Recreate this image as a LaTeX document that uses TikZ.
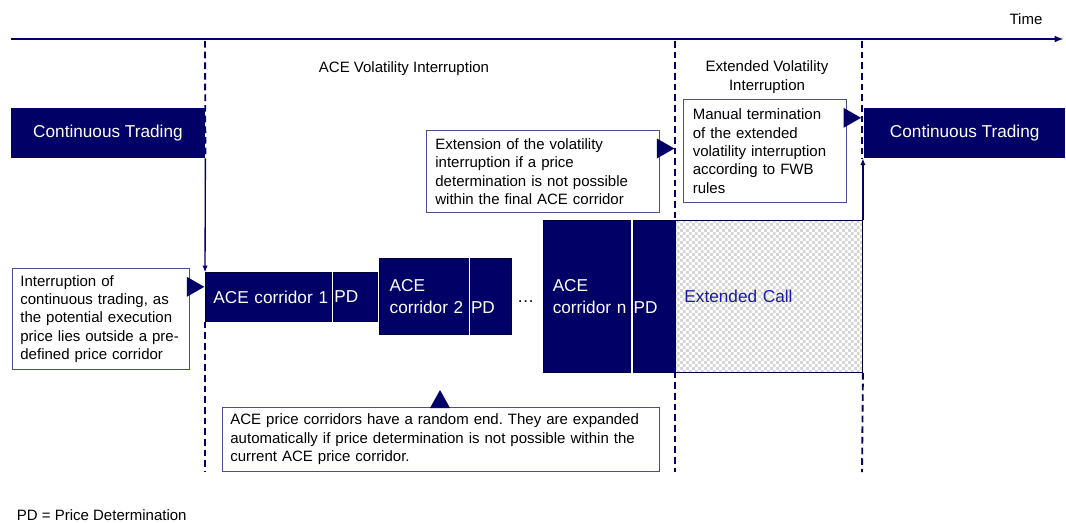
\documentclass[tikz,border=0pt]{standalone}
\usepackage{fontspec}
\setmainfont{Liberation Sans}
\usepackage{tikz}
\usetikzlibrary{arrows.meta,positioning,calc,patterns}
\frenchspacing

\definecolor{navy}{HTML}{000066}
\definecolor{notecol}{HTML}{4C4C94}
\definecolor{callblue}{HTML}{1A1AA8}
\newcommand{\notefont}{\fontsize{15}{18.3}\selectfont}
\newcommand{\boxfont}{\fontsize{17.2}{22}\selectfont}
% small checker squares for the extended call
\pgfdeclarepatternformonly{finechecks}{\pgfpointorigin}{\pgfqpoint{4.4pt}{4.4pt}}{\pgfqpoint{4.4pt}{4.4pt}}{%
  \pgfpathrectangle{\pgfpointorigin}{\pgfqpoint{2.2pt}{2.2pt}}%
  \pgfpathrectangle{\pgfqpoint{2.2pt}{2.2pt}}{\pgfqpoint{2.2pt}{2.2pt}}%
  \pgfusepath{fill}%
}

\begin{document}
\begin{tikzpicture}[
    % GLOBAL CFG
    x=1pt, y=-1pt,
    scale=0.75,
    every node/.style={scale=0.75, inner sep=0pt},
    font=\notefont,
    >={Latex[length=5pt,width=4pt]},
    % Styles
    phase/.style={% For the continuous trading boxes
        rectangle,
        fill=navy,
        text=white,
        font=\boxfont,
        anchor=north west,
        minimum height=50,
        },
    corridor/.style={% For the ACE corridors
        rectangle,
        draw=navy!55!black,
        line width=0.8pt,
        fill=navy,
        text=white,
        font=\boxfont,
        align=left,
        anchor=north west,
        },
    pd/.style={% PD part of a corridor
        text=white,
        font=\boxfont,
        anchor=west,
        inner xsep=1.5,
        },
    divider/.style={% White line in front of PD
        white,
        line width=1pt,
        },
    extcall/.style={% Extended call box
        rectangle,
        draw=navy!55!black,
        line width=0.9pt,
        pattern=finechecks,
        pattern color=black!16,
        text=callblue,
        font=\boxfont,
        align=left,
        anchor=north west,
        },
    note/.style={% For the explaining boxes
        rectangle,
        draw=notecol,
        line width=0.8pt,
        fill=white,
        align=left,
        anchor=north west,
        },
    pointer/.style={% Triangles of the notes
        fill=navy,
        },
    guide/.style={% Dashed phase borders
        navy,
        line width=1.4pt,
        dash pattern=on 5pt off 3pt,
        },
    ArrowT/.style={% Time axis
        navy,
        line width=1.4pt,
        -{Latex[length=7pt,width=5pt]},
        },
    ArrowV/.style={% Vertical arrows
        navy,
        line width=1pt,
        ->,
        },
    ]

    \useasboundingbox (0,0) rectangle (1066,522);

    % Time axis
    \coordinate (ax0) at (11,39);
    \coordinate (ax1) at (1064,39);
    \node (time) at (1026,19) {Time};

    % Ends of the dashed borders
    \coordinate (g1a) at (205,41);
    \coordinate (g1b) at (205,472);
    \coordinate (g2a) at (675,41);
    \coordinate (g2b) at (675,472);
    \coordinate (g3a) at (862,41);
    \coordinate (g3b) at (862,472);

    % Headlines
    \node (vih) at (404,69) {ACE Volatility Interruption};
    \node[align=center] (evih) at (767,77) {Extended Volatility\\Interruption};

    % Continuous trading before and after
    \node[phase, minimum width=194.5] (ct1) at (10.5,108) {Continuous Trading};
    \node[phase, minimum width=201] (ct2) at (864,108) {Continuous Trading};

    % Dashed borders (below the boxes)
    \draw[guide] (g1a) -- (ct1.south east);
    \draw[guide] (g2a) -- (g2b);
    \draw[guide] (g3a) -- (g3a |- ct2.south);

    % ACE corridors named cor# and pd#
    \node[corridor, minimum width=172, minimum height=48.4, text width=156] (cor1) at (205,272.3) {ACE corridor 1};
    \node[corridor, minimum width=131.7, minimum height=75.7, text width=111.7] (cor2) at (379.3,258.3) {ACE\\corridor 2};
    \node[corridor, minimum width=132.3, minimum height=152, text width=113] (cor3) at (542.7,220) {ACE\\corridor n};
    \node[pd] (pd1) at (332.7,297) {PD};
    \node[pd] (pd2) at (469.3,308) {PD};
    \node[pd] (pd3) at (632,308) {PD};
    \draw[divider] (pd1.west |- cor1.north) -- (pd1.west |- cor1.south);
    \draw[divider] (pd2.west |- cor2.north) -- (pd2.west |- cor2.south);
    \draw[divider] (pd3.west |- cor3.north) -- (pd3.west |- cor3.south);
    \node[anchor=base west, font=\boxfont] (dots) at (517,302) {\ldots};

    % Extended call
    \node[extcall, minimum width=187, minimum height=152, text width=169] (ecall) at (675,220) {Extended Call};

    % Notes named note#
    \node[note, minimum width=177.3, minimum height=100.7, text width=160.7] (note1) at (11.7,268.3) {Interruption of\\continuous trading, as\\the potential execution\\price lies outside a pre-\\defined price corridor};
    \node[note, minimum width=233, minimum height=82.3, text width=215] (note2) at (426,130) {Extension of the volatility\\interruption if a price\\determination is not possible\\within the final ACE corridor};
    \node[note, minimum width=162.7, minimum height=102.7, text width=144] (note3) at (683,99.3) {Manual termination\\of the extended\\volatility interruption\\according to FWB\\rules};
    \node[note, minimum width=437.6, minimum height=64, text width=421] (note4) at (221.7,407) {ACE price corridors have a random end. They are expanded\\automatically if price determination is not possible within the\\current ACE price corridor.};

    % Pointers of the notes
    \fill[pointer] ($(note1.north east)+(-3,8.5)$) -- ($(note1.north east)+(14.5,18.5)$) -- ($(note1.north east)+(-3,28.5)$) -- cycle;
    \fill[pointer] ($(note2.north east)+(-3,8.5)$) -- ($(note2.north east)+(14.5,18.5)$) -- ($(note2.north east)+(-3,28.5)$) -- cycle;
    \fill[pointer] ($(note3.north east)+(-3,8.5)$) -- ($(note3.north east)+(14.5,18.5)$) -- ($(note3.north east)+(-3,28.5)$) -- cycle;
    \fill[pointer] ($(note4.north west)+(208.3,1)$) -- ($(note4.north west)+(218.3,-17)$) -- ($(note4.north west)+(228.3,1)$) -- cycle;

    % Dashed borders (below the corridors)
    \draw[guide] (cor1.south west) -- (g1b);
    \draw[guide] (ecall.south east) -- (g3b);

    % Arrows
    \draw[ArrowT] (ax0) -- (ax1);
    \draw[ArrowV] (ct1.south east) -- (cor1.north west);
    \draw[ArrowV] (ecall.north east) -- (ecall.north east |- ct2.south);

    % Legend
    \node[anchor=west] (pdkey) at (16.7,515) {PD = Price Determination};

\end{tikzpicture}
\end{document}
